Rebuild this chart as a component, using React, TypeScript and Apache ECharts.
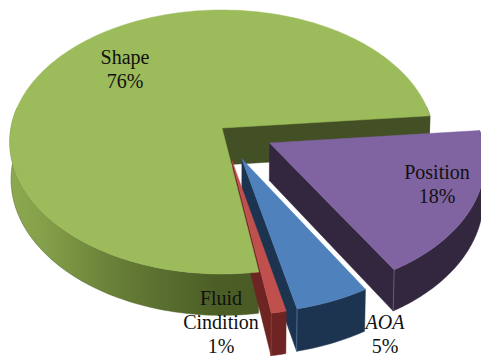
import React, { useEffect, useRef } from "react";
import * as echarts from "echarts";

// Pie shares, listed clockwise from the near edge of the main slice
const categories = ["Shape", "Position", "AOA", "Fluid Cindition"];
const shares = [76, 18, 5, 1];
const pulledOut = [0, 0.25, 0.25, 0.25];

const topColors = ["#9CBB5B", "#8064A2", "#4F81BD", "#C0504D"];
const cutColors = ["#434F24", "#33263F", "#1C344F", "#6E2422"];
const rimColors = ["#4F6228", "#33263F", "#1C344F", "#6E2422"];
const cornerColors = ["#4F6228", "#665A80", "#4C6C92", "#8A3A38"];

// Label lines per slice; the last line is always the percentage
const labelLines = categories.map((name, i) => [...name.split(" "), `${shares[i]}%`]);
const labelCenters = [
  [125, 57],
  [437, 172],
  [385, 322],
  [221, 298],
];

// Perspective disc model
const CX = 222;
const CY = 128;
const RX = 211;
const RY = 130.5;
const PERSPECTIVE = 0.106;
const DEPTH = 37;
const FIRST_ANGLE = 81;
const LINE_HEIGHT = 24;
const RAD = Math.PI / 180;

function project(u: number, v: number, drop: number) {
  const s = 1 / (1 - PERSPECTIVE * v);
  return [CX + RX * u * s * (1 - drop * 0.006), CY + RY * v * s + drop * DEPTH * s];
}

function renderSlice(params: any, api: any) {
  const i = params.dataIndex;
  const total = shares.reduce((a, b) => a + b, 0);
  const before = shares.slice(0, i).reduce((a, b) => a + b, 0);
  const start = FIRST_ANGLE + (before / total) * 360;
  const end = start + (api.value(0) / total) * 360;
  const mid = ((start + end) / 2) * RAD;
  const ox = Math.cos(mid) * pulledOut[i];
  const oy = Math.sin(mid) * pulledOut[i];

  const rim = (a: number, drop: number) =>
    project(ox + Math.cos(a * RAD), oy + Math.sin(a * RAD), drop);
  const apex = (drop: number) => project(ox, oy, drop);

  const angles: number[] = [];
  const steps = Math.max(4, Math.ceil(end - start));
  for (let k = 0; k <= steps; k++) angles.push(start + ((end - start) * k) / steps);

  // Walls of the main slice sit underneath everything; its top face covers the
  // hidden part of the thin neighbour's wall, so it is raised above the others.
  const wallZ = i === 0 ? 0 : i * 10;
  const topZ = i === 0 ? 50 : i * 10 + 1;

  const children: any[] = [];
  const poly = (points: number[][], fill: any, z2: number, stroke?: string) =>
    children.push({
      type: "polygon",
      z2,
      shape: { points },
      style: { fill, stroke: stroke ?? (typeof fill === "string" ? fill : "#4F6228"), lineWidth: 0.5 },
      silent: true,
    });

  // Outer wall: only the part of the rim that faces the viewer
  const front = angles.filter((a) => Math.sin(a * RAD) > -0.17);
  if (front.length > 1) {
    const fill =
      i === 0
        ? new echarts.graphic.LinearGradient(
            10,
            0,
            261,
            0,
            [
              { offset: 0, color: "#8CA950" },
              { offset: 0.14, color: "#849F49" },
              { offset: 0.38, color: "#6B8339" },
              { offset: 0.6, color: "#5A6F2F" },
              { offset: 0.82, color: "#4C5E26" },
              { offset: 1, color: "#4A5A25" },
            ],
            true,
          )
        : rimColors[i];
    poly(
      [...front.map((a) => rim(a, 0)), ...front.slice().reverse().map((a) => rim(a, 1))],
      fill,
      wallZ,
    );
  }

  // Cut faces: whichever radial edge turns toward the viewer
  if (-Math.cos(start * RAD) > 0) {
    poly([apex(0), rim(start, 0), rim(start, 1), apex(1)], cutColors[i], wallZ);
  }
  if (Math.cos(end * RAD) > 0) {
    poly([apex(0), rim(end, 0), rim(end, 1), apex(1)], cutColors[i], wallZ);
  }

  // Thin highlight down the wall's near corner
  if (i > 0) {
    const [a, b] = [rim(end, 0), rim(end, 1)];
    children.push({
      type: "line",
      z2: wallZ,
      silent: true,
      shape: { x1: a[0], y1: a[1], x2: b[0], y2: b[1] },
      style: { stroke: cornerColors[i], lineWidth: 1 },
    });
  }

  // Top face
  poly([apex(0), ...angles.map((a) => rim(a, 0))], topColors[i], topZ);

  labelLines[i].forEach((line, k) => {
    children.push({
      type: "text",
      z2: 60,
      silent: true,
      style: {
        text: line,
        x: labelCenters[i][0],
        y: labelCenters[i][1] + k * LINE_HEIGHT,
        align: "center",
        verticalAlign: "middle",
        fill: "#111111",
        fontFamily: "Liberation Serif",
        fontSize: 20,
        fontStyle: line === "AOA" ? "italic" : "normal",
      },
    });
  });

  return { type: "group", children };
}

export default function App() {
  const ref = useRef<HTMLDivElement>(null);
  useEffect(() => {
    const chart = echarts.init(ref.current!, null, { renderer: "svg" });
    chart.setOption({
      animation: false,
      backgroundColor: "#ffffff",
      series: [
        {
          type: "custom",
          coordinateSystem: "none",
          renderItem: renderSlice,
          data: shares.map((value, i) => ({ name: categories[i], value: [value] })),
          silent: true,
        },
      ],
    });
    return () => chart.dispose();
  }, []);
  return (
    <div
      ref={ref}
      style={{ position: "absolute", left: 0, top: 0, width: 481, height: 356, overflow: "hidden" }}
    />
  );
}
